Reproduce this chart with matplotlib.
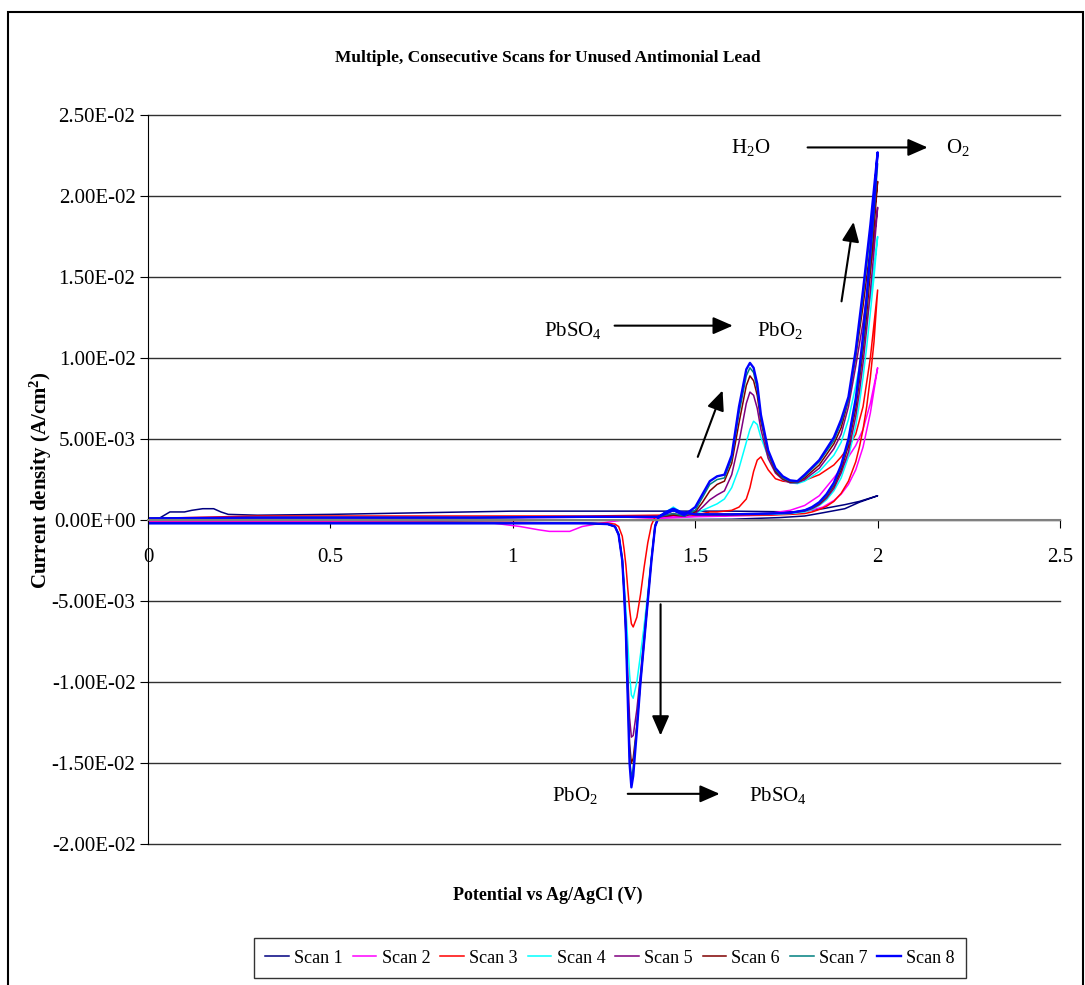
import matplotlib
matplotlib.use("Agg")
import matplotlib.pyplot as plt
from matplotlib.patches import Rectangle
from matplotlib.ticker import FuncFormatter

plt.rcParams['font.family'] = ['Liberation Serif', 'DejaVu Serif']
plt.rcParams['mathtext.fontset'] = 'custom'
plt.rcParams['mathtext.rm'] = 'Liberation Serif'
plt.rcParams['mathtext.it'] = 'Liberation Serif:italic'
plt.rcParams['mathtext.bf'] = 'Liberation Serif:bold'

scan_names = ["Scan 1", "Scan 2", "Scan 3", "Scan 4", "Scan 5", "Scan 6", "Scan 7", "Scan 8"]
scan_colors = ["#000080", "#FF00FF", "#FF0000", "#00FFFF", "#800080", "#800000", "#008080", "#0000FF"]

# scan 1 and scan 2: own potential lists (forward 0 -> 2 V, then back)
scan1_v = [0.0, 0.03, 0.06, 0.10, 0.12, 0.15, 0.18, 0.20, 0.22, 0.30, 0.50, 0.75, 1.0, 1.4, 1.6,
           1.78, 1.85, 1.91, 1.95, 2.0, 1.95, 1.91, 1.85, 1.80, 1.73, 1.6, 1.2, 0.8, 0.4, 0.0]
scan1_i = [0.0, 1e-4, 5e-4, 5e-4, 6e-4, 7e-4, 7e-4, 5e-4, 3.5e-4, 3e-4, 3.5e-4, 4.5e-4, 5.5e-4, 5.5e-4, 5.5e-4,
           5e-4, 7e-4, 9.5e-4, 1.15e-3, 1.5e-3, 1.1e-3, 7e-4, 4.5e-4, 2.5e-4, 1.5e-4, 0.5e-4, 0.0, -0.5e-4, -0.5e-4, -0.5e-4]

scan2_v = [0.0, 0.5, 1.0, 1.4, 1.6, 1.70, 1.76, 1.80, 1.84, 1.88, 1.90, 1.92, 1.94, 1.96, 1.98, 2.0,
           1.99, 1.98, 1.96, 1.94, 1.92, 1.90, 1.88, 1.85, 1.80, 1.70, 1.50, 1.30, 1.24, 1.19, 1.156,
           1.10, 1.07, 1.02, 0.95, 0.8, 0.4, 0.0]
scan2_i = [1e-4, 1e-4, 1.5e-4, 2e-4, 3e-4, 4e-4, 6e-4, 9e-4, 1.5e-3, 2.6e-3, 3.2e-3, 3.9e-3, 4.6e-3, 5.6e-3, 7.2e-3, 9.4e-3,
           8.0e-3, 6.6e-3, 4.5e-3, 3.1e-3, 2.2e-3, 1.6e-3, 1.2e-3, 8e-4, 5e-4, 3e-4, 2e-4, 0.0, -2e-4, -4e-4, -7e-4,
           -7e-4, -6e-4, -4e-4, -2e-4, -1.5e-4, -1e-4, -1e-4]

# scans 3-8 share the potential lists
fwd_v = [0.0, 0.3, 0.6, 0.9, 1.2, 1.4, 1.44, 1.47, 1.50, 1.52, 1.54, 1.56, 1.58, 1.60, 1.62, 1.64, 1.65,
         1.66, 1.67, 1.68, 1.70, 1.72, 1.74, 1.76, 1.78, 1.80, 1.84, 1.88, 1.90, 1.92, 1.94, 1.96, 1.98, 2.0]
rev_v = [2.0, 1.99, 1.98, 1.97, 1.96, 1.95, 1.94, 1.92, 1.90, 1.88, 1.86, 1.84, 1.82, 1.80, 1.76, 1.70,
         1.60, 1.50, 1.46, 1.44, 1.42, 1.40, 1.39, 1.38, 1.37, 1.36, 1.35, 1.34, 1.33, 1.325, 1.32, 1.315,
         1.31, 1.305, 1.30, 1.29, 1.28, 1.26, 1.2, 1.0, 0.7, 0.4, 0.1, 0.0]

scan3_fwd = [1e-4, 2.5e-4, 2.5e-4, 2.5e-4, 2.5e-4, 3e-4, 3e-4, 3e-4, 4e-4, 4e-4, 5e-4, 5e-4, 5.5e-4, 6e-4, 8e-4,
             1.3e-3, 2.0e-3, 3.0e-3, 3.7e-3, 3.9e-3, 3.1e-3, 2.55e-3, 2.4e-3, 2.35e-3, 2.35e-3, 2.45e-3, 2.8e-3,
             3.4e-3, 3.9e-3, 4.5e-3, 5.3e-3, 7.0e-3, 1.0e-2, 1.42e-2]
scan3_rev = [1.42e-2, 1.1e-2, 8.8e-3, 7.0e-3, 5.6e-3, 4.5e-3, 3.6e-3, 2.4e-3, 1.65e-3, 1.15e-3, 8.5e-4, 6.5e-4,
             5e-4, 4e-4, 3.5e-4, 3e-4, 3e-4, 3e-4, 3e-4, 4e-4, 3e-4, 2e-4, 2e-4, -3e-4, -1.4e-3, -2.9e-3, -4.6e-3,
             -6.0e-3, -6.6e-3, -6.4e-3, -5.5e-3, -4.2e-3, -2.8e-3, -1.8e-3, -1.0e-3, -4e-4, -2.5e-4, -2e-4, -2e-4,
             -1.5e-4, -1.5e-4, -1.5e-4, -1.5e-4, -1.5e-4]

scan4_fwd = [1e-4, 1.5e-4, 1.5e-4, 1.5e-4, 2e-4, 2e-4, 6e-4, 2.5e-4, 4e-4, 6e-4, 8e-4, 1.0e-3, 1.3e-3, 2.0e-3,
             3.2e-3, 4.8e-3, 5.6e-3, 6.1e-3, 5.9e-3, 5.1e-3, 3.9e-3, 3.0e-3, 2.5e-3, 2.3e-3, 2.25e-3, 2.4e-3,
             3.0e-3, 4.0e-3, 4.8e-3, 6.2e-3, 8.3e-3, 1.06e-2, 1.38e-2, 1.75e-2]
scan4_rev = [1.75e-2, 1.5e-2, 1.28e-2, 1.07e-2, 8.8e-3, 7.2e-3, 5.8e-3, 3.9e-3, 2.6e-3, 1.8e-3, 1.25e-3, 9e-4,
             6.5e-4, 5e-4, 4e-4, 3.5e-4, 3.5e-4, 3.5e-4, 5e-4, 8e-4, 5e-4, 2e-4, -3e-4, -2.3e-3, -4.5e-3, -6.5e-3,
             -8.3e-3, -1.0e-2, -1.1e-2, -1.08e-2, -9.5e-3, -7.5e-3, -5.5e-3, -3.8e-3, -2.3e-3, -8e-4, -4e-4,
             -2.5e-4, -2e-4, -2e-4, -2e-4, -2e-4, -2e-4, -2e-4]

scan5_fwd = [1e-4, 1.5e-4, 1.5e-4, 1.5e-4, 2e-4, 2e-4, 3e-4, 2.5e-4, 4e-4, 8e-4, 1.25e-3, 1.55e-3, 1.8e-3, 2.8e-3,
             4.8e-3, 7.2e-3, 7.9e-3, 7.7e-3, 6.9e-3, 5.6e-3, 3.8e-3, 2.9e-3, 2.5e-3, 2.3e-3, 2.3e-3, 2.5e-3,
             3.2e-3, 4.4e-3, 5.3e-3, 7.0e-3, 9.5e-3, 1.22e-2, 1.55e-2, 1.93e-2]
scan5_rev = [1.93e-2, 1.66e-2, 1.41e-2, 1.18e-2, 9.7e-3, 7.9e-3, 6.4e-3, 4.2e-3, 2.9e-3, 1.95e-3, 1.35e-3, 9.5e-4,
             7e-4, 5.5e-4, 4.5e-4, 4e-4, 3.5e-4, 3.5e-4, 4.5e-4, 6e-4, 4.5e-4, 2e-4, -3e-4, -2.4e-3, -4.8e-3,
             -7.2e-3, -9.5e-3, -1.17e-2, -1.33e-2, -1.34e-2, -1.22e-2, -9.5e-3, -6.5e-3, -4.2e-3, -2.4e-3, -9e-4,
             -4e-4, -2.5e-4, -2e-4, -2e-4, -2e-4, -2e-4, -2e-4, -2e-4]

scan6_fwd = [1e-4, 1.5e-4, 1.5e-4, 1.5e-4, 2e-4, 2e-4, 3e-4, 2.5e-4, 5e-4, 1.1e-3, 1.8e-3, 2.2e-3, 2.4e-3, 3.5e-3,
             6.0e-3, 8.3e-3, 8.9e-3, 8.6e-3, 7.7e-3, 6.1e-3, 4.1e-3, 3.0e-3, 2.55e-3, 2.35e-3, 2.35e-3, 2.6e-3,
             3.4e-3, 4.7e-3, 5.7e-3, 7.4e-3, 1.01e-2, 1.32e-2, 1.68e-2, 2.09e-2]
scan6_rev = [2.09e-2, 1.8e-2, 1.53e-2, 1.27e-2, 1.05e-2, 8.6e-3, 6.9e-3, 4.6e-3, 3.1e-3, 2.1e-3, 1.45e-3, 1.0e-3,
             7.5e-4, 6e-4, 4.5e-4, 4e-4, 3.5e-4, 3.5e-4, 5e-4, 6.5e-4, 4.5e-4, 2e-4, -4e-4, -2.5e-3, -5.0e-3,
             -7.5e-3, -1.0e-2, -1.27e-2, -1.47e-2, -1.5e-2, -1.38e-2, -1.05e-2, -7.0e-3, -4.4e-3, -2.5e-3, -9e-4,
             -4e-4, -2.5e-4, -2e-4, -2e-4, -2e-4, -2e-4, -2e-4, -2e-4]

scan7_fwd = [1e-4, 1.5e-4, 1.5e-4, 1.5e-4, 2e-4, 2e-4, 4e-4, 2.5e-4, 6e-4, 1.4e-3, 2.2e-3, 2.5e-3, 2.6e-3, 3.8e-3,
             6.6e-3, 8.9e-3, 9.4e-3, 9.1e-3, 8.1e-3, 6.3e-3, 4.2e-3, 3.1e-3, 2.6e-3, 2.4e-3, 2.35e-3, 2.7e-3,
             3.6e-3, 4.9e-3, 6.0e-3, 7.4e-3, 1.02e-2, 1.38e-2, 1.77e-2, 2.2e-2]
scan7_rev = [2.2e-2, 1.89e-2, 1.61e-2, 1.34e-2, 1.1e-2, 9.0e-3, 7.3e-3, 4.8e-3, 3.3e-3, 2.2e-3, 1.5e-3, 1.05e-3,
             7.5e-4, 6e-4, 4.5e-4, 4e-4, 3.5e-4, 3.5e-4, 5e-4, 7e-4, 5e-4, 2e-4, -4e-4, -2.4e-3, -4.9e-3, -7.4e-3,
             -9.9e-3, -1.27e-2, -1.53e-2, -1.6e-2, -1.46e-2, -1.07e-2, -6.8e-3, -4.4e-3, -2.5e-3, -9e-4, -4e-4,
             -2.5e-4, -2e-4, -2e-4, -2e-4, -2e-4, -2e-4, -2e-4]

scan8_fwd = [1e-4, 1.5e-4, 1.5e-4, 1.5e-4, 2e-4, 2e-4, 6e-4, 3e-4, 8e-4, 1.6e-3, 2.4e-3, 2.7e-3, 2.8e-3, 4.0e-3,
             7.0e-3, 9.3e-3, 9.7e-3, 9.4e-3, 8.4e-3, 6.5e-3, 4.3e-3, 3.2e-3, 2.7e-3, 2.45e-3, 2.4e-3, 2.8e-3,
             3.7e-3, 5.1e-3, 6.2e-3, 7.6e-3, 1.05e-2, 1.42e-2, 1.82e-2, 2.27e-2]
scan8_rev = [2.27e-2, 1.95e-2, 1.66e-2, 1.38e-2, 1.14e-2, 9.3e-3, 7.5e-3, 5.0e-3, 3.4e-3, 2.3e-3, 1.6e-3, 1.1e-3,
             8e-4, 6e-4, 4.5e-4, 4e-4, 3.5e-4, 3.5e-4, 5e-4, 7e-4, 5e-4, 2e-4, -4e-4, -2.5e-3, -5.0e-3, -7.5e-3,
             -1.0e-2, -1.3e-2, -1.58e-2, -1.65e-2, -1.5e-2, -1.1e-2, -7.0e-3, -4.5e-3, -2.5e-3, -9e-4, -4e-4,
             -2.5e-4, -2e-4, -2e-4, -2e-4, -2e-4, -2e-4, -2e-4]

y_ticks = [-0.02, -0.015, -0.01, -0.005, 0.0, 0.005, 0.01, 0.015, 0.02, 0.025]
x_ticks = [0, 0.5, 1, 1.5, 2, 2.5]
x_tick_labels = ["0", "0.5", "1", "1.5", "2", "2.5"]

scans = [
    (scan1_v, scan1_i),
    (scan2_v, scan2_i),
    (fwd_v + rev_v, scan3_fwd + scan3_rev),
    (fwd_v + rev_v, scan4_fwd + scan4_rev),
    (fwd_v + rev_v, scan5_fwd + scan5_rev),
    (fwd_v + rev_v, scan6_fwd + scan6_rev),
    (fwd_v + rev_v, scan7_fwd + scan7_rev),
    (fwd_v + rev_v, scan8_fwd + scan8_rev),
]

fig = plt.figure(figsize=(10.85, 9.85), dpi=100)
ax = fig.add_axes([0.1364, 0.1431, 0.8406, 0.7401])

for (v, cur), name, col in zip(scans, scan_names, scan_colors):
    lw = 1.7 if name == "Scan 8" else 1.1
    ax.plot(v, cur, color=col, lw=lw, label=name)

ax.set_xlim(0, 2.5)
ax.set_ylim(-0.02, 0.025)
ax.set_yticks(y_ticks)
ax.yaxis.set_major_formatter(FuncFormatter(lambda val, pos: f"{val:.2E}"))
ax.set_xticks(x_ticks)
ax.set_xticklabels(x_tick_labels)
ax.yaxis.grid(True, color='#303030', lw=1)
for gl in ax.get_ygridlines():
    gl.set_clip_on(False)
ax.set_axisbelow(True)

ax.spines['top'].set_visible(False)
ax.spines['right'].set_visible(False)
ax.spines['bottom'].set_position(('data', 0))
ax.spines['bottom'].set_color('#808080')
ax.spines['bottom'].set_linewidth(1.5)
ax.spines['left'].set_color('black')
ax.tick_params(axis='y', labelsize=15, length=6, direction='out', pad=3)
ax.tick_params(axis='x', labelsize=15, length=6, direction='out', pad=14, color='black')

fig.text(0.505, 0.941, "Multiple, Consecutive Scans for Unused Antimonial Lead",
         ha='center', va='center', fontsize=12.5, fontweight='bold')
fig.text(0.505, 0.091, "Potential vs Ag/AgCl (V)", ha='center', va='center',
         fontsize=13, fontweight='bold')
fig.text(0.038, 0.513, r"Current density (A/cm$^\mathbf{2}$)", ha='center', va='center',
         rotation=90, fontsize=15, fontweight='bold')

# reaction labels and arrows
txt = dict(fontsize=15, ha='center', va='center')
ax.text(1.652, 0.0230, r"H$_2$O", **txt)
ax.text(2.22, 0.0230, r"O$_2$", **txt)
ax.text(1.164, 0.0117, r"PbSO$_4$", **txt)
ax.text(1.732, 0.0117, r"PbO$_2$", **txt)
ax.text(1.17, -0.0170, r"PbO$_2$", **txt)
ax.text(1.726, -0.0170, r"PbSO$_4$", **txt)

arrow = dict(arrowstyle='-|>,head_length=0.8,head_width=0.35', color='black', lw=1.5,
             mutation_scale=15, shrinkA=0, shrinkB=0)
ax.annotate('', xy=(2.137, 0.0230), xytext=(1.808, 0.0230), arrowprops=arrow)
ax.annotate('', xy=(1.603, 0.0120), xytext=(1.279, 0.0120), arrowprops=arrow)
ax.annotate('', xy=(1.567, -0.0169), xytext=(1.315, -0.0169), arrowprops=arrow)
ax.annotate('', xy=(1.575, 0.0080), xytext=(1.507, 0.0039), arrowprops=arrow)
ax.annotate('', xy=(1.934, 0.0184), xytext=(1.901, 0.0135), arrowprops=arrow)
ax.annotate('', xy=(1.405, -0.0133), xytext=(1.405, -0.0052), arrowprops=arrow)

leg = fig.legend(loc='center', bbox_to_anchor=(0.5622, 0.0274), ncol=8, fontsize=13,
                 frameon=True, fancybox=False, edgecolor='black', handlelength=1.3,
                 handletextpad=0.3, columnspacing=0.55, borderpad=0.65, borderaxespad=0)
leg.get_frame().set_linewidth(1.0)

fig.patches.append(Rectangle((0.0074, -0.01), 0.9908, 0.9978, transform=fig.transFigure,
                             fill=False, lw=1.5, ec='black'))

fig.savefig("out.png", dpi=100)
